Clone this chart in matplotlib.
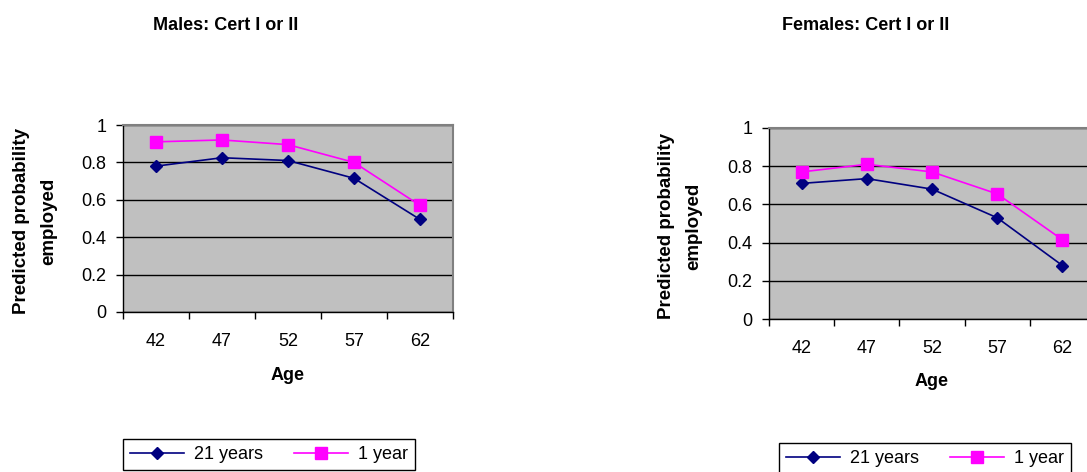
import matplotlib
matplotlib.use('Agg')
import matplotlib.pyplot as plt
import numpy as np

plt.rcParams['font.family'] = ['Liberation Sans', 'DejaVu Sans']

ages = ['42', '47', '52', '57', '62']
y_ticks = [0, 0.2, 0.4, 0.6, 0.8, 1.0]
y_tick_labels = ['0', '0.2', '0.4', '0.6', '0.8', '1']

males_21 = [0.78, 0.825, 0.81, 0.715, 0.495]
males_1 = [0.91, 0.92, 0.895, 0.80, 0.57]
females_21 = [0.71, 0.735, 0.68, 0.53, 0.28]
females_1 = [0.77, 0.81, 0.77, 0.655, 0.415]

series_names = ['21 years', '1 year']
navy = '#000080'
magenta = '#FF00FF'

W, H = 1087, 472
fig = plt.figure(figsize=(W / 100, H / 100), dpi=100)


def px(x0, y0, w, h):
    # pixel box (from top-left) -> figure fraction
    return [x0 / W, 1 - (y0 + h) / H, w / W, h / H]


def draw_panel(rect, s21, s1, title, title_xy, ylab_xy, xlabel_pad):
    ax = fig.add_axes(rect)
    x = np.arange(len(ages))
    ax.set_facecolor('#C0C0C0')
    ax.plot(x, s21, color=navy, lw=1.2, marker='D', ms=6.5, label=series_names[0], zorder=3)
    ax.plot(x, s1, color=magenta, lw=1.2, marker='s', ms=8.5, label=series_names[1], zorder=3)
    ax.set_xlim(-0.5, 4.5)
    ax.set_ylim(0, 1)
    ax.set_yticks(y_ticks)
    ax.set_yticklabels(y_tick_labels)
    ax.set_xticks(np.arange(-0.5, 5, 1))
    ax.set_xticklabels([])
    ax.set_xticks(x, minor=True)
    ax.set_xticklabels(ages, minor=True)
    ax.tick_params(axis='x', which='major', length=5, width=1, color='black')
    ax.tick_params(axis='x', which='minor', length=0, pad=15, labelsize=13)
    ax.tick_params(axis='y', length=5, width=1, pad=7, labelsize=13)
    ax.set_axisbelow(True)
    ax.yaxis.grid(True, color='black', linewidth=1)
    for s in ['left', 'bottom']:
        ax.spines[s].set_color('black')
        ax.spines[s].set_linewidth(1)
    for s in ['top', 'right']:
        ax.spines[s].set_color('#808080')
        ax.spines[s].set_linewidth(1.5)
    ax.set_xlabel('Age', fontsize=13, fontweight='bold', labelpad=xlabel_pad)
    fig.text(title_xy[0] / W, 1 - title_xy[1] / H, title, fontsize=13,
             fontweight='bold', ha='center', va='center')
    fig.text(ylab_xy[0] / W, 1 - ylab_xy[1] / H, 'Predicted probability\nemployed',
             fontsize=13.5, fontweight='bold', rotation=90, ha='center', va='center',
             linespacing=1.75, multialignment='center')
    return ax


ax1 = draw_panel(px(123, 125, 330, 187), males_21, males_1,
                 'Males: Cert I or II', (226, 25), (35, 221), 12)
ax2 = draw_panel(px(769, 128, 326, 191), females_21, females_1,
                 'Females: Cert I or II', (866, 25), (680, 226), 12)

for ax, (lx, ly) in [(ax1, (123, 439)), (ax2, (779, 443))]:
    handles, labels = ax.get_legend_handles_labels()
    leg = fig.legend(handles, labels, loc='upper left', ncol=2,
                     bbox_to_anchor=(lx / W, 1 - ly / H), fontsize=13,
                     frameon=True, fancybox=False, framealpha=1, edgecolor='black',
                     handlelength=3.0, handletextpad=0.55, columnspacing=1.7,
                     borderpad=0.4, borderaxespad=0)
    leg.get_frame().set_linewidth(1)

fig.savefig('out.png', dpi=100)
